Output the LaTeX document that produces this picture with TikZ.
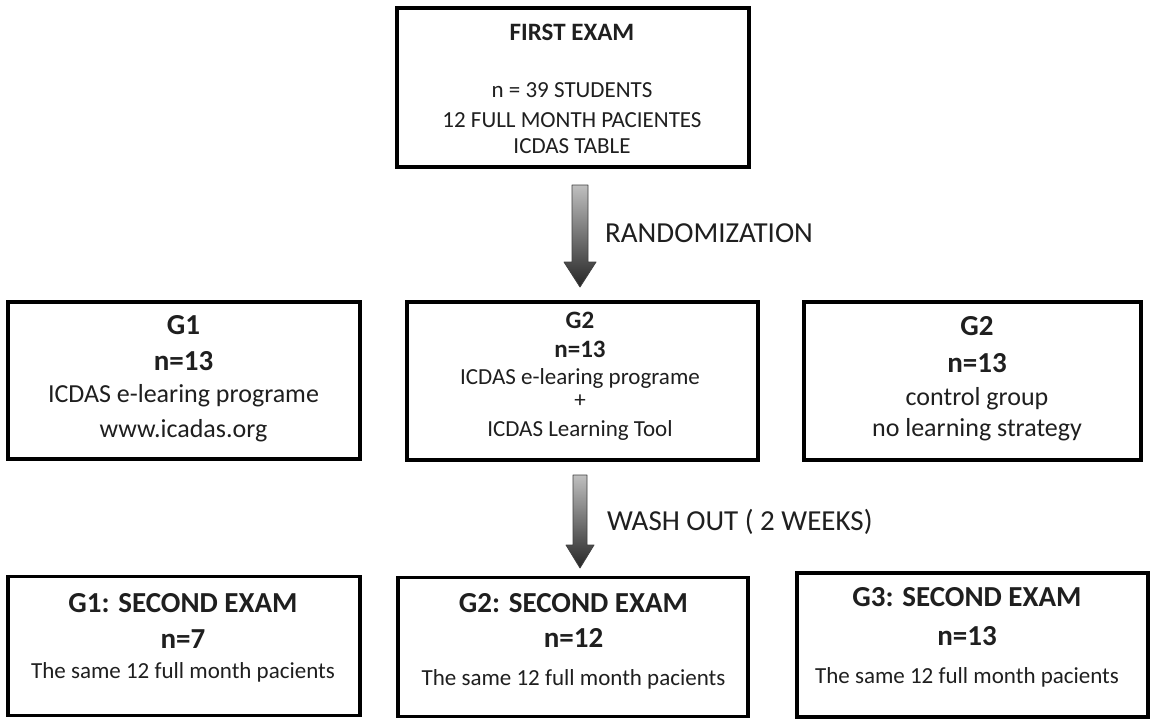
\documentclass[tikz,border=0pt]{standalone}
\usepackage{fontspec}
\setmainfont{Carlito}
\usetikzlibrary{calc}
\tikzset{
  box/.style={draw=black, line width=3.5pt, rectangle, inner sep=0pt},
  txt/.style={anchor=base, inner sep=0pt, text=black!88},
  fatarrow/.style={draw=black!75, line width=0.8pt, top color=black!25, bottom color=black!85, line join=round},
}
\newcommand{\fs}[1]{\fontsize{#1}{#1}\selectfont}
\begin{document}
\begin{tikzpicture}[x=1pt,y=-1pt]
\useasboundingbox (0,0) rectangle (1152,720);
\fill[white] (0,0) rectangle (1152,720);

% boxes
\node[box, minimum width=352pt, minimum height=159pt] (first) at (573,87.5) {};
\node[box, minimum width=352pt, minimum height=157pt] (g1) at (184,380.5) {};
\node[box, minimum width=351pt, minimum height=158pt] (g2) at (582.5,381) {};
\node[box, minimum width=337pt, minimum height=158pt] (g3) at (972.5,381) {};
\node[box, minimum width=352pt, minimum height=139pt] (s1) at (184,646) {};
\node[box, minimum width=350pt, minimum height=139pt] (s2) at (573,647) {};
\node[box, minimum width=351pt, minimum height=144pt] (s3) at (972.5,645) {};

% first exam text
\node[txt, font=\fs{25}\bfseries] (f1) at (572,40) {FIRST EXAM};
\node[txt, font=\fs{23}] (f2) at (572,97) {n = 39 STUDENTS};
\node[txt, font=\fs{23}] (f3) at (572,127) {12 FULL MONTH PACIENTES};
\node[txt, font=\fs{23}] (f4) at (572,153) {ICDAS TABLE};

% arrows
\coordinate (a1) at (580,185);
\coordinate (a2) at (580,475);
\path[fatarrow] ($(a1)+(-8,0)$) -- ($(a1)+(8,0)$) -- ($(a1)+(8,77)$) -- ($(a1)+(16,77)$) -- ($(a1)+(0,102)$) -- ($(a1)+(-16,77)$) -- ($(a1)+(-8,77)$) -- cycle;
\path[fatarrow] ($(a2)+(-7,0)$) -- ($(a2)+(7,0)$) -- ($(a2)+(7,70)$) -- ($(a2)+(14,70)$) -- ($(a2)+(0,93)$) -- ($(a2)+(-14,70)$) -- ($(a2)+(-7,70)$) -- cycle;
\node[txt, anchor=base west, font=\fs{29}] (rnd) at (605,242) {RANDOMIZATION};
\node[txt, anchor=base west, font=\fs{29}] (wash) at (607,530) {WASH OUT ( 2 WEEKS)};

% G1 row 2
\node[txt, font=\fs{29}\bfseries] (g1a) at (183.5,334) {G1};
\node[txt, font=\fs{29}\bfseries] (g1b) at (183.5,370) {n=13};
\node[txt, font=\fs{26}] (g1c) at (183.5,402) {ICDAS e-learing programe};
\node[txt, font=\fs{26}] (g1d) at (183.5,437) {www.icadas.org};

% G2 row 2
\node[txt, font=\fs{25}\bfseries] (g2a) at (580,328) {G2};
\node[txt, font=\fs{25}\bfseries] (g2b) at (580,357) {n=13};
\node[txt, font=\fs{23}] (g2c) at (580,384) {ICDAS e-learing programe};
\node[txt, font=\fs{23}] (g2d) at (580,407) {+};
\node[txt, font=\fs{23}] (g2e) at (580,436) {ICDAS Learning Tool};

% G2 (control) row 2
\node[txt, font=\fs{29}\bfseries] (g3a) at (977,335) {G2};
\node[txt, font=\fs{29}\bfseries] (g3b) at (977,372) {n=13};
\node[txt, font=\fs{26}] (g3c) at (977,405) {control group};
\node[txt, font=\fs{26}] (g3d) at (977,436) {no learning strategy};

% second exams
\node[txt, font=\fs{29}\bfseries] (s1a) at (183,612) {G1: SECOND EXAM};
\node[txt, font=\fs{29}\bfseries] (s1b) at (183,648) {n=7};
\node[txt, font=\fs{23}] (s1c) at (183,678) {The same 12 full month pacients};

\node[txt, font=\fs{29}\bfseries] (s2a) at (573.5,612) {G2: SECOND EXAM};
\node[txt, font=\fs{29}\bfseries] (s2b) at (573.5,647) {n=12};
\node[txt, font=\fs{23}] (s2c) at (573.5,685) {The same 12 full month pacients};

\node[txt, font=\fs{29}\bfseries] (s3a) at (967,606) {G3: SECOND EXAM};
\node[txt, font=\fs{29}\bfseries] (s3b) at (967,645) {n=13};
\node[txt, font=\fs{23}] (s3c) at (967,683) {The same 12 full month pacients};
\end{tikzpicture}
\end{document}
